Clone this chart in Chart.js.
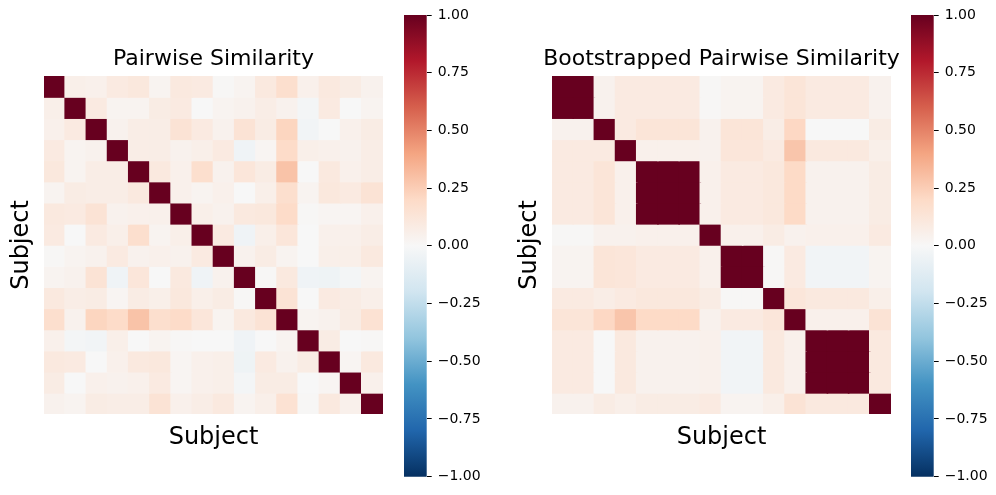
<!DOCTYPE html>
<html>
<head>
<meta charset="utf-8">
<script src="https://cdn.jsdelivr.net/npm/chart.js@4.4.1/dist/chart.umd.min.js"></script>
<style>
  html, body { margin: 0; padding: 0; background: #fff; overflow: hidden; }
  body { width: 996px; height: 495px; position: relative; }
  .box { position: absolute; top: 0; height: 495px; }
</style>
</head>
<body>
<div class="box" style="left:0;width:427px"><canvas id="heatA"></canvas></div>
<div class="box" style="left:390px;width:99px"><canvas id="barA"></canvas></div>
<div class="box" style="left:508px;width:427px"><canvas id="heatB"></canvas></div>
<div class="box" style="left:897px;width:99px"><canvas id="barB"></canvas></div>
<script>
// --- data ---
const SUBJECTS = ['S01', 'S02', 'S03', 'S04', 'S05', 'S06', 'S07', 'S08',
                  'S09', 'S10', 'S11', 'S12', 'S13', 'S14', 'S15', 'S16'];

const PAIRWISE = [
  [1, .06, .05, .09, .11, .03, .10, .09, .01, .03, .10, .17, .05, .10, .08, .04],
  [.06, 1, .09, .03, .03, .08, .09, .00, .03, .04, .07, .04, -.02, .09, .00, .03],
  [.05, .09, 1, .04, .07, .07, .14, .09, .04, .14, .08, .22, -.03, .00, .05, .08],
  [.09, .03, .04, 1, .07, .07, .04, .06, .09, -.04, .02, .19, .06, .05, .04, .07],
  [.11, .03, .07, .07, 1, .10, .05, .17, .04, .12, .08, .29, .00, .10, .05, .07],
  [.03, .08, .07, .07, .10, 1, .05, .03, .05, .00, .06, .17, .03, .11, .09, .14],
  [.10, .09, .14, .04, .05, .05, 1, .06, .04, .10, .11, .19, .01, .02, .02, .05],
  [.09, .00, .09, .06, .17, .03, .06, 1, .09, -.04, .06, .12, .00, .05, .05, .07],
  [.01, .03, .04, .09, .04, .05, .04, .09, 1, .04, .08, .03, .00, .06, .06, .10],
  [.03, .04, .14, -.04, .12, .00, .10, -.04, .04, 1, .01, .10, -.04, -.05, -.02, .03],
  [.10, .07, .08, .02, .08, .06, .11, .06, .08, .01, 1, .14, .00, .09, .08, .06],
  [.17, .04, .22, .19, .29, .17, .19, .12, .03, .10, .14, 1, .03, .04, .08, .15],
  [.05, -.02, -.03, .06, .00, .03, .01, .00, .00, -.04, .00, .03, 1, .08, .00, .01],
  [.10, .09, .00, .05, .10, .11, .02, .05, .06, -.05, .09, .04, .08, 1, .02, .10],
  [.08, .00, .05, .04, .05, .09, .02, .05, .06, -.02, .08, .08, .00, .02, 1, .05],
  [.04, .03, .08, .07, .07, .14, .05, .07, .10, .03, .06, .15, .01, .10, .05, 1]
];

const BOOTSTRAP = [
  [1, 1, .04, .09, .09, .09, .09, .01, .03, .03, .09, .13, .09, .09, .09, .04],
  [1, 1, .04, .09, .09, .09, .09, .01, .03, .03, .09, .13, .09, .09, .09, .04],
  [.04, .04, 1, .09, .13, .13, .13, .04, .13, .13, .07, .21, .00, .00, .00, .08],
  [.09, .09, .09, 1, .05, .05, .05, .04, .12, .12, .09, .28, .10, .10, .10, .06],
  [.09, .09, .13, .05, 1, 1, 1, .05, .09, .09, .11, .20, .04, .04, .04, .08],
  [.09, .09, .13, .05, 1, 1, 1, .05, .09, .09, .11, .20, .04, .04, .04, .08],
  [.09, .09, .13, .05, 1, 1, 1, .05, .09, .09, .11, .20, .04, .04, .04, .08],
  [.01, .01, .04, .04, .05, .05, .05, 1, .05, .05, .08, .04, .05, .05, .05, .09],
  [.03, .03, .13, .12, .09, .09, .09, .05, 1, 1, .01, .09, -.03, -.03, -.03, .03],
  [.03, .03, .13, .12, .09, .09, .09, .05, 1, 1, .01, .09, -.03, -.03, -.03, .03],
  [.09, .09, .07, .09, .11, .11, .11, .08, .01, .01, 1, .12, .10, .10, .10, .06],
  [.13, .13, .21, .28, .20, .20, .20, .04, .09, .09, .12, 1, .05, .05, .05, .14],
  [.09, .09, .00, .10, .04, .04, .04, .05, -.03, -.03, .10, .05, 1, 1, 1, .10],
  [.09, .09, .00, .10, .04, .04, .04, .05, -.03, -.03, .10, .05, 1, 1, 1, .10],
  [.09, .09, .00, .10, .04, .04, .04, .05, -.03, -.03, .10, .05, 1, 1, 1, .10],
  [.04, .04, .08, .06, .08, .08, .08, .09, .03, .03, .06, .14, .10, .10, .10, 1]
];

const CB_TICKS = [-1, -0.75, -0.5, -0.25, 0, 0.25, 0.5, 0.75, 1];

// RdBu_r anchors, from -1 to +1
const RDBU = ['#053061', '#2166ac', '#4393c3', '#92c5de', '#d1e5f0', '#f7f7f7',
              '#fddbc7', '#f4a582', '#d6604d', '#b2182b', '#67001f'];

Chart.defaults.font.family = "'DejaVu Sans', sans-serif";
Chart.defaults.color = '#000';

function hexRgb(h) {
  return [1, 3, 5].map(i => parseInt(h.slice(i, i + 2), 16));
}

function rdbu(v) {
  const t = (Math.max(-1, Math.min(1, v)) + 1) / 2 * (RDBU.length - 1);
  const i = Math.min(Math.floor(t), RDBU.length - 2);
  const f = t - i;
  const a = hexRgb(RDBU[i]), b = hexRgb(RDBU[i + 1]);
  const c = a.map((x, k) => Math.round(x + (b[k] - x) * f));
  return `rgb(${c[0]},${c[1]},${c[2]})`;
}

const hidden = {
  grid: { display: false, drawTicks: false },
  border: { display: false },
  ticks: { display: false }
};

function heatmap(id, title, matrix) {
  new Chart(document.getElementById(id), {
    type: 'bar',
    data: {
      labels: SUBJECTS,
      datasets: matrix.map((row, r) => ({
        label: SUBJECTS[r],
        data: row.map(() => 1),          // every row is one cell tall
        backgroundColor: row.map(rdbu),
        borderWidth: 0,
        inflateAmount: 0.8,              // no hairline seams between cells
        barPercentage: 1,
        categoryPercentage: 1,
        stack: 'rows'
      }))
    },
    options: {
      responsive: true,
      maintainAspectRatio: false,
      animation: false,
      layout: { autoPadding: false, padding: { left: 0, right: 0, top: 0, bottom: 42.6 } },
      plugins: {
        legend: { display: false },
        tooltip: { enabled: false },
        title: {
          display: true, text: title, color: '#000',
          font: { size: 22, weight: 'normal' },
          padding: { top: 46.5, bottom: 3 }
        }
      },
      scales: {
        x: {
          ...hidden, stacked: true,
          title: { display: true, text: 'Subject', color: '#000', font: { size: 24 }, padding: { top: 9.6, bottom: 0 } }
        },
        y: {
          ...hidden, stacked: true, reverse: true, min: 0, max: SUBJECTS.length,
          title: { display: true, text: 'Subject', color: '#000', font: { size: 24 }, padding: { top: 7.6, bottom: 0 } },
          afterFit: s => { s.width = 44; }
        },
        // empty right axis so the title centres over the cells
        yr: { ...hidden, position: 'right', afterFit: s => { s.width = 44; } }
      }
    }
  });
}

function gradientFill(c) {
  const area = c.chart.chartArea;
  if (!area) return RDBU[5];
  const g = c.chart.ctx.createLinearGradient(0, area.bottom, 0, area.top);
  RDBU.forEach((col, i) => g.addColorStop(i / (RDBU.length - 1), col));
  return g;
}

function colorbar(id) {
  new Chart(document.getElementById(id), {
    type: 'bar',
    data: {
      labels: [''],
      datasets: [{
        data: [[CB_TICKS[0], CB_TICKS[CB_TICKS.length - 1]]],
        backgroundColor: gradientFill,
        borderWidth: 0,
        barPercentage: 1,
        categoryPercentage: 1
      }]
    },
    options: {
      responsive: true,
      maintainAspectRatio: false,
      animation: false,
      layout: { autoPadding: false, padding: { left: 14, right: 0, top: 15, bottom: 18.3 } },
      plugins: { legend: { display: false }, tooltip: { enabled: false } },
      scales: {
        x: { display: false },
        y: {
          position: 'right', min: -1, max: 1,
          afterBuildTicks: s => { s.ticks = CB_TICKS.map(v => ({ value: v })); },
          ticks: {
            color: '#000', font: { size: 14 }, padding: 6,
            callback: v => v.toFixed(2).replace('-', '\u2212')
          },
          grid: { drawOnChartArea: false, drawTicks: true, tickLength: 5, color: '#000', lineWidth: 1 },
          border: { display: false },
          afterFit: s => { s.width = 62.3; }
        }
      }
    }
  });
}

heatmap('heatA', 'Pairwise Similarity', PAIRWISE);
colorbar('barA');
heatmap('heatB', 'Bootstrapped Pairwise Similarity', BOOTSTRAP);
colorbar('barB');
</script>
</body>
</html>
